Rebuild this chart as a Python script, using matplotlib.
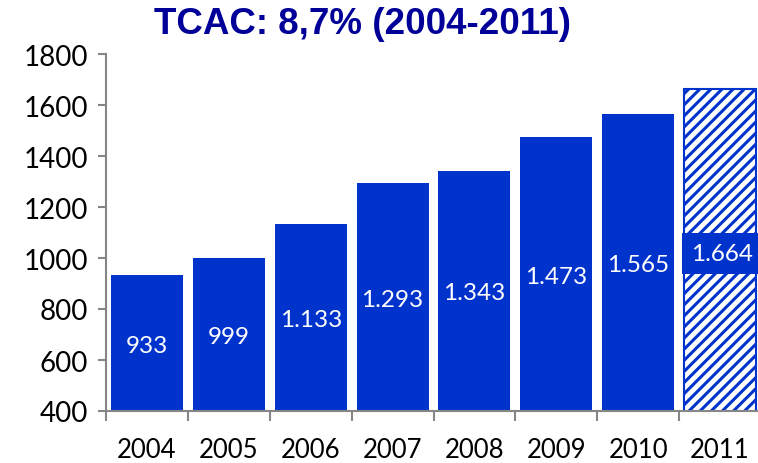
import matplotlib.pyplot as plt
import numpy as np

# annual values, last year is an estimate (hatched)
years = ['2004', '2005', '2006', '2007', '2008', '2009', '2010', '2011']
values = [933, 999, 1133, 1293, 1343, 1473, 1565, 1664]
labels = ['933', '999', '1.133', '1.293', '1.343', '1.473', '1.565', '1.664']
yticks = [400, 600, 800, 1000, 1200, 1400, 1600, 1800]

blue = '#0033cc'
grey = '#868686'
plt.rcParams['hatch.linewidth'] = 2.2
plt.rcParams['font.family'] = ['Lato', 'DejaVu Sans']

fig = plt.figure(figsize=(7.58, 4.64), dpi=100)
ax = fig.add_axes([106/758, 52/464, 655/758, 357/464])

x = np.arange(len(years))
bars = ax.bar(x[:-1], values[:-1], width=0.88, color=blue)
est = ax.bar(x[-1:], values[-1:], width=0.88, color='white',
             edgecolor=blue, hatch='///', linewidth=1.5)

ax.set_ylim(400, 1800)
ax.set_xlim(-0.5, len(years) - 0.5)
ax.set_yticks(yticks)
ax.tick_params(axis='y', labelsize=20, length=6, width=1.5, color=grey, pad=7)

# ticks between categories, labels centered under bars
ax.set_xticks(np.arange(-0.5, len(years), 1.0))
ax.set_xticklabels([])
ax.set_xticks(x, minor=True)
ax.set_xticklabels(years, minor=True)
ax.tick_params(axis='x', which='major', length=7, width=1.5, color=grey)
ax.tick_params(axis='x', which='minor', length=0, labelsize=18.5, pad=19)

for side in ['top', 'right']:
    ax.spines[side].set_visible(False)
for side in ['left', 'bottom']:
    ax.spines[side].set_color(grey)
    ax.spines[side].set_linewidth(1.5)

for i, (v, lab) in enumerate(zip(values, labels)):
    mid = (400 + v) / 2
    if i == len(values) - 1:
        ax.text(i + 0.03, mid - 15, lab, ha='center', va='center', color='white',
                fontsize=17.5, bbox=dict(boxstyle='square,pad=0.4', fc=blue, ec='none'))
    else:
        ax.text(i, mid - 8, lab, ha='center', va='center', color='white', fontsize=17.5)

fig.text(362/758, 1 - 25/464, 'TCAC: 8,7% (2004-2011)', ha='center', va='center',
         fontsize=26.5, fontweight='bold', color='#000099', family='Liberation Sans')

fig.savefig('out.png', dpi=100)
